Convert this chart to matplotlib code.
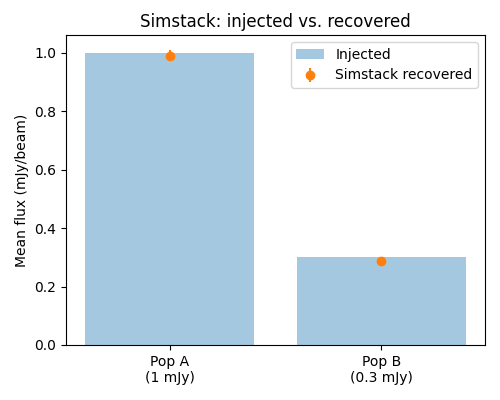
import matplotlib
matplotlib.use("Agg")
import matplotlib.pyplot as plt
import numpy as np

categories = ["Pop A\n(1 mJy)", "Pop B\n(0.3 mJy)"]
injected = [1.0, 0.3]
recovered = [0.99, 0.288]
recovered_err = [0.02, 0.006]

fig, ax = plt.subplots(figsize=(5, 4), dpi=100)
x = np.arange(len(categories))
ax.bar(x, injected, width=0.8, color="tab:blue", alpha=0.4, label="Injected")
ax.errorbar(x, recovered, yerr=recovered_err, fmt="o", color="tab:orange",
            label="Simstack recovered")
ax.set_xticks(x)
ax.set_xticklabels(categories)
ax.set_ylabel("Mean flux (mJy/beam)")
ax.set_title("Simstack: injected vs. recovered")
ax.legend()
fig.subplots_adjust(left=0.132, right=0.97, bottom=0.1375, top=0.9125)
fig.savefig("out.png")
